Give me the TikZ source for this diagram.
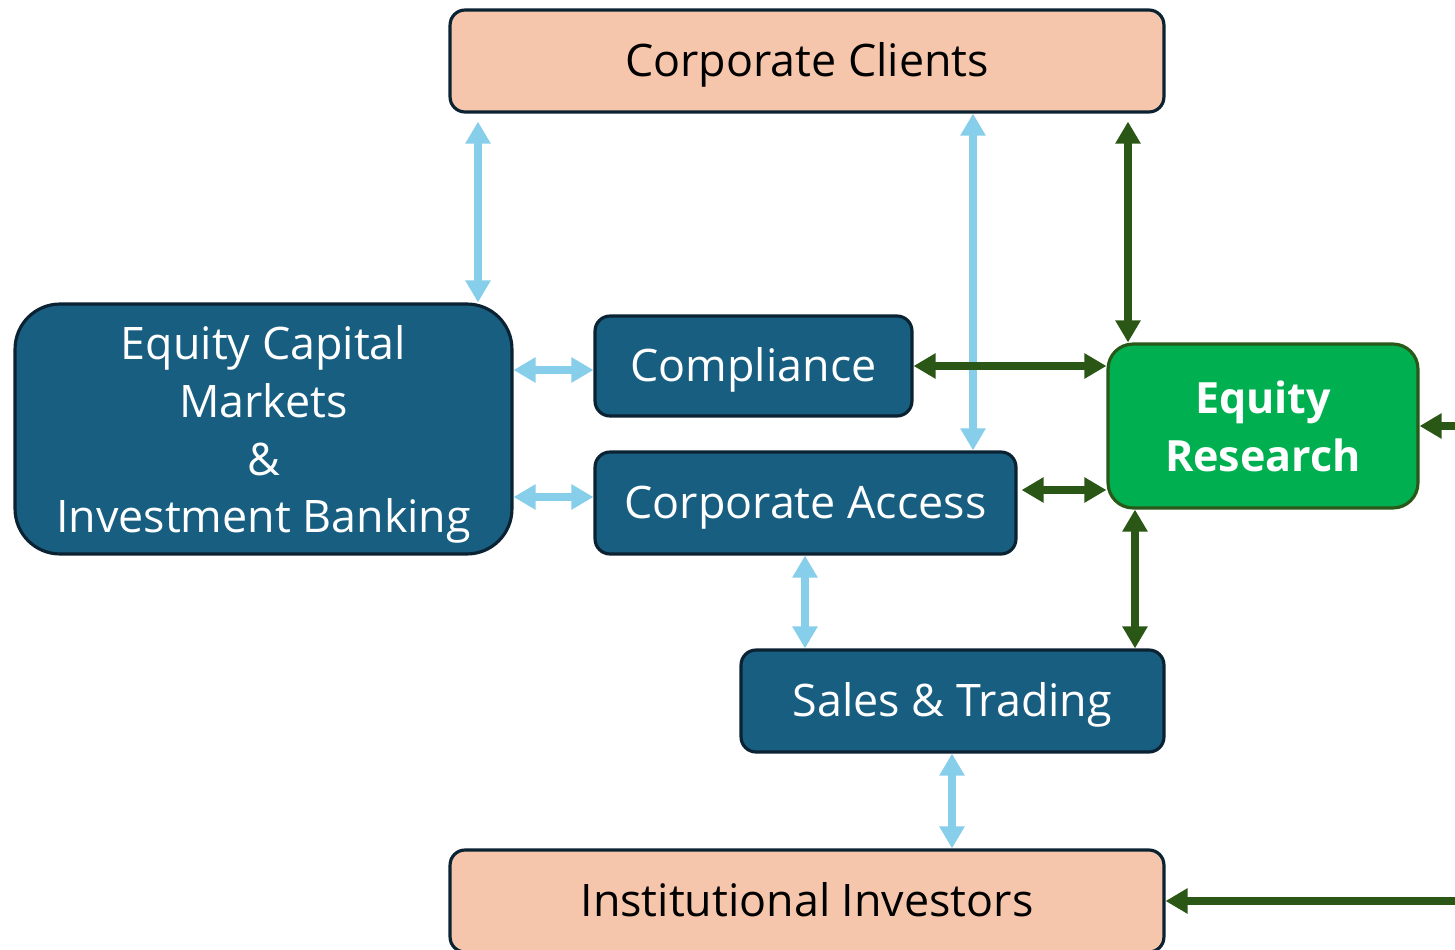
\documentclass[tikz,border=0pt]{standalone}
\usepackage{fontspec}
\setmainfont{Open Sans}
\usetikzlibrary{arrows.meta}
\definecolor{boxblue}{RGB}{24,94,128}
\definecolor{boxedge}{RGB}{10,34,50}
\definecolor{peach}{RGB}{245,198,171}
\definecolor{ergreen}{RGB}{0,176,80}
\definecolor{geedge}{RGB}{42,88,24}
\definecolor{darkarrow}{RGB}{43,87,22}
\definecolor{lightarrow}{RGB}{135,206,235}
\tikzset{
  base/.style={draw=boxedge, line width=1.8pt, align=center, inner sep=0pt, font=\fontsize{25.5}{33}\selectfont},
  oneline/.style={text height=18.2pt, text depth=0pt},
  peachbox/.style={base, oneline, fill=peach, text=black, rounded corners=0.3cm},
  bluebox/.style={base, fill=boxblue, text=white, rounded corners=0.3cm},
  greenbox/.style={base, draw=geedge, fill=ergreen, text=white, rounded corners=0.5cm, font=\fontsize{24.5}{33}\selectfont\bfseries},
  lightlink/.style={draw=lightarrow, line width=4.5pt, {Triangle[width=0.48cm,length=0.44cm]}-{Triangle[width=0.48cm,length=0.44cm]}},
  darklink/.style={draw=darkarrow, line width=4pt, {Triangle[width=0.48cm,length=0.44cm]}-{Triangle[width=0.48cm,length=0.44cm]}},
  darkone/.style={draw=darkarrow, line width=4pt, -{Triangle[width=0.48cm,length=0.44cm]}},
}
\begin{document}
\begin{tikzpicture}[x=0.02cm, y=-0.02cm]
\useasboundingbox (0,0) rectangle (1455,950);
\node[peachbox, minimum width=14.28cm, minimum height=2.04cm] (cc) at (807,61) {Corporate Clients};
\node[peachbox, minimum width=14.28cm, minimum height=2.04cm] (ii) at (807,901) {Institutional Investors};
\node[bluebox, rounded corners=0.9cm, minimum width=9.94cm, minimum height=5cm, text depth=0pt] (ecm) at (263.5,429) {Equity Capital\\Markets\\\&\\Investment Banking};
\node[bluebox, oneline, minimum width=6.34cm, minimum height=2cm] (comp) at (753.5,366) {Compliance};
\node[bluebox, oneline, minimum width=8.42cm, minimum height=2.04cm] (ca) at (805.5,503) {Corporate Access};
\node[bluebox, oneline, minimum width=8.46cm, minimum height=2.04cm] (st) at (952.5,701) {Sales \& Trading};
\node[greenbox, minimum width=6.2cm, minimum height=3.28cm] (er) at (1263,426) {Equity\\Research};
\coordinate (rin) at (1455,426);
\coordinate (rii) at (1455,901);
% light blue links
\draw[lightlink] (cc.south -| 478,0) ++(0,8) -- (ecm.north -| 478,0);
\draw[lightlink] (cc.south -| 973,0) -- (ca.north -| 973,0);
\draw[lightlink] (ecm.east |- 0,370) -- (comp.west |- 0,370);
\draw[lightlink] (ecm.east |- 0,497) -- (ca.west |- 0,497);
\draw[lightlink] (ca.south -| 805,0) -- (st.north -| 805,0);
\draw[lightlink] (st.south -| 952,0) -- (ii.north -| 952,0);
% dark green links
\draw[darklink] (cc.south -| 1128,0) ++(0,8) -- (er.north -| 1128,0);
\draw[darklink] (comp.east |- 0,366) -- (er.west |- 0,366);
\draw[darklink] (ca.east |- 0,490) ++(4,0) -- (er.west |- 0,490);
\draw[darklink] (er.south -| 1135,0) -- (st.north -| 1135,0);
\draw[darkone] (rin) -- (er.east);
\draw[darkone] (rii) -- (ii.east);
\end{tikzpicture}
\end{document}
